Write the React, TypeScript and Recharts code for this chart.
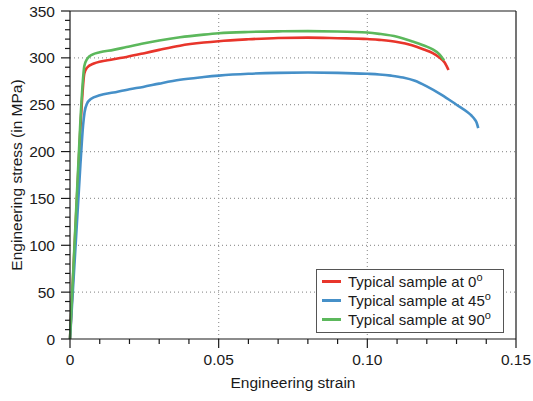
import { Line, LineChart, ReferenceLine, XAxis, YAxis } from "recharts";

// curva do ensaio a 0 graus
const strain0 = [0, 0.0035, 0.0042, 0.0048, 0.0057, 0.008, 0.0146, 0.019, 0.025, 0.03, 0.037, 0.045, 0.05, 0.06, 0.07, 0.08, 0.09, 0.1, 0.104, 0.11, 0.115, 0.119, 0.122, 0.124, 0.126, 0.1273];
const stress0 = [0, 225, 262, 283, 289.5, 294, 298.5, 301, 305, 308.5, 313, 316.3, 317.8, 319.8, 321.2, 321.6, 321, 320.2, 319.2, 317, 313.5, 309, 305, 301, 295, 287];

// 45 graus
const strain45 = [0, 0.0035, 0.0044, 0.0049, 0.0057, 0.007, 0.01, 0.0146, 0.02, 0.0246, 0.03, 0.037, 0.045, 0.05, 0.06, 0.07, 0.08, 0.09, 0.1, 0.104, 0.108, 0.112, 0.116, 0.12, 0.125, 0.13, 0.1335, 0.135, 0.1362, 0.1368, 0.1373];
const stress45 = [0, 186, 228, 242, 251, 256, 260, 263, 266.5, 269, 272.5, 276.6, 279.5, 281, 283, 284, 284.3, 284, 283, 282.3, 281, 279, 275.5, 269.5, 260.5, 250, 242.5, 238.5, 234, 230.5, 225];

// 90 graus
const strain90 = [0, 0.0035, 0.0042, 0.0048, 0.0058, 0.0075, 0.01, 0.0146, 0.019, 0.025, 0.03, 0.037, 0.045, 0.05, 0.06, 0.07, 0.08, 0.09, 0.1, 0.104, 0.11, 0.1152, 0.12, 0.122, 0.124, 0.1258];
const stress90 = [0, 233, 270, 291, 299, 303.5, 306, 308.5, 311.5, 315.5, 318.5, 322, 324.8, 326.2, 327.6, 328.3, 328.5, 328.2, 327, 325.6, 322.5, 317.5, 312, 309, 304.5, 297.5];

const legendas = ["Typical sample at 0", "Typical sample at 45", "Typical sample at 90"];
const cores = ["#e8352b", "#4690c8", "#5cb85c"];

const xTicks = [0, 0.01, 0.02, 0.03, 0.04, 0.05, 0.06, 0.07, 0.08, 0.09, 0.1, 0.11, 0.12, 0.13, 0.14, 0.15];
const xMajor = [0, 0.05, 0.1, 0.15];
const xMajorLabels = ["0", "0.05", "0.10", "0.15"];
const yTicks = [0, 10, 20, 30, 40, 50, 60, 70, 80, 90, 100, 110, 120, 130, 140, 150, 160, 170, 180, 190, 200, 210, 220, 230, 240, 250, 260, 270, 280, 290, 300, 310, 320, 330, 340, 350];
const yMajor = [0, 50, 100, 150, 200, 250, 300, 350];
const yGrid = [50, 100, 150, 200, 250, 300];
const xGrid = [0.05, 0.1];

const INK = "#1a1a1a";
const FONTE = "'Liberation Sans', Arial, Helvetica, sans-serif";

const juntar = (xs: number[], ys: number[]) =>
  xs.map((strain, i) => ({ strain, stress: ys[i] }));

const series = [
  juntar(strain0, stress0),
  juntar(strain45, stress45),
  juntar(strain90, stress90),
];

function TickX(props: any) {
  const { x, y, payload } = props;
  const i = xMajor.findIndex((v) => Math.abs(v - payload.value) < 1e-9);
  const major = i >= 0;
  return (
    <g>
      <line x1={x} x2={x} y1={y} y2={y + (major ? 9 : 5)} stroke={INK} strokeWidth={1.2} />
      {major && (
        <text x={x} y={y + 26} textAnchor="middle" fill={INK} fontSize={15.5} fontFamily={FONTE}>
          {xMajorLabels[i]}
        </text>
      )}
    </g>
  );
}

function TickY(props: any) {
  const { x, y, payload } = props;
  const major = yMajor.includes(payload.value);
  return (
    <g>
      <line x1={x} x2={x - (major ? 9 : 5)} y1={y} y2={y} stroke={INK} strokeWidth={1.2} />
      {major && (
        <text x={x - 15} y={y + 5.5} textAnchor="end" fill={INK} fontSize={15.5} fontFamily={FONTE}>
          {payload.value}
        </text>
      )}
    </g>
  );
}

export default function App() {
  return (
    <div
      style={{
        position: "absolute",
        left: 0,
        top: 0,
        width: 533,
        height: 401,
        background: "#fff",
        fontFamily: FONTE,
      }}
    >
      <LineChart width={533} height={401} margin={{ top: 11, right: 17, bottom: 0, left: 0 }}>
        <XAxis
          dataKey="strain"
          type="number"
          domain={[0, 0.15]}
          ticks={xTicks}
          interval={0}
          height={62}
          tickSize={0}
          tickMargin={0}
          tickLine={false}
          tick={<TickX />}
          axisLine={{ stroke: INK, strokeWidth: 1.2 }}
          label={{
            value: "Engineering strain",
            position: "insideBottom",
            offset: 13,
            fill: INK,
            fontSize: 15.5,
            fontFamily: FONTE,
          }}
        />
        <YAxis
          type="number"
          domain={[0, 350]}
          ticks={yTicks}
          interval={0}
          width={70}
          tickSize={0}
          tickMargin={0}
          tickLine={false}
          tick={<TickY />}
          axisLine={{ stroke: INK, strokeWidth: 1.2 }}
          label={{
            value: "Engineering stress (in MPa)",
            angle: -90,
            position: "insideLeft",
            offset: 16,
            fill: INK,
            fontSize: 15.5,
            fontFamily: FONTE,
            style: { textAnchor: "middle" },
          }}
        />
        {yGrid.map((v) => (
          <ReferenceLine key={"gy" + v} y={v} stroke="#999" strokeDasharray="1 3" strokeWidth={1.2} />
        ))}
        {xGrid.map((v) => (
          <ReferenceLine key={"gx" + v} x={v} stroke="#999" strokeDasharray="1 3" strokeWidth={1.2} />
        ))}
        <ReferenceLine y={350} stroke={INK} strokeWidth={1.2} />
        <ReferenceLine x={0.15} stroke={INK} strokeWidth={1.2} />
        {series.map((dados, i) => (
          <Line
            key={legendas[i]}
            data={dados}
            dataKey="stress"
            type="monotone"
            stroke={cores[i]}
            strokeWidth={2.6}
            dot={false}
            activeDot={false}
            isAnimationActive={false}
          />
        ))}
      </LineChart>
      <div
        style={{
          position: "absolute",
          left: 316,
          top: 269,
          width: 186,
          height: 60,
          border: "1px solid #555",
          background: "#fff",
          paddingTop: 2,
          boxSizing: "content-box",
        }}
      >
        {legendas.map((txt, i) => (
          <div key={txt} style={{ display: "flex", alignItems: "center", height: 19, fontSize: 15, color: INK }}>
            <span style={{ display: "inline-block", marginLeft: 5, width: 19, height: 3, background: cores[i] }} />
            <span style={{ marginLeft: 7, whiteSpace: "nowrap" }}>
              {txt}
              <sup style={{ fontSize: 11, lineHeight: 0, verticalAlign: 6 }}>o</sup>
            </span>
          </div>
        ))}
      </div>
    </div>
  );
}
